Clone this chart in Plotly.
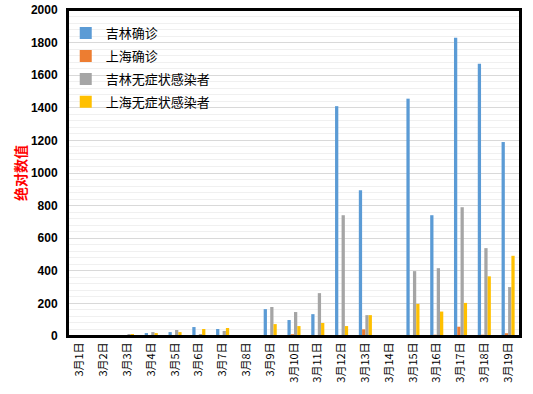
import plotly.graph_objects as go

categories = ["3月1日","3月2日","3月3日","3月4日","3月5日","3月6日","3月7日","3月8日","3月9日","3月10日",
              "3月11日","3月12日","3月13日","3月14日","3月15日","3月16日","3月17日","3月18日","3月19日"]
jilin_confirmed = [5, 0, 4, 18, 24, 55, 43, 0, 165, 98, 134, 1410, 894, 0, 1456, 741, 1830, 1670, 1190]
shanghai_confirmed = [3, 0, 3, 5, 0, 3, 3, 0, 4, 11, 5, 4, 41, 0, 5, 8, 57, 8, 17]
jilin_asym = [4, 0, 12, 24, 37, 12, 31, 0, 178, 147, 263, 741, 128, 0, 398, 416, 790, 539, 300]
shanghai_asym = [4, 0, 12, 18, 24, 43, 49, 0, 73, 61, 80, 61, 128, 0, 197, 150, 203, 366, 492]

series = [
    ("吉林确诊", jilin_confirmed, "#5B9BD5"),
    ("上海确诊", shanghai_confirmed, "#ED7D31"),
    ("吉林无症状感染者", jilin_asym, "#A5A5A5"),
    ("上海无症状感染者", shanghai_asym, "#FFC000"),
]

fig = go.Figure()
for name, vals, color in series:
    fig.add_trace(go.Bar(x=categories, y=vals, name=name, legendgroup=name,
                         marker=dict(color=color, line=dict(width=0))))

font_cjk = "Noto Sans CJK SC, DejaVu Sans, sans-serif"
fig.update_layout(
    width=533, height=394,
    margin=dict(l=68, r=13, t=10, b=58, autoexpand=False),
    paper_bgcolor="white", plot_bgcolor="white",
    barmode="group", bargap=0.45, bargroupgap=0,
    hovermode=False,
    font=dict(family=font_cjk, size=12, color="#000000"),
    showlegend=True,
    legend=dict(x=-0.005, y=0.975, xanchor="left", yanchor="top",
                bgcolor="rgba(0,0,0,0)", font=dict(size=13, family=font_cjk, color="#000000"),
                itemwidth=30, tracegroupgap=3),
    xaxis=dict(type="category", tickangle=-90, showline=True, linecolor="#000000", linewidth=2,
               mirror=True, ticks="", ticklen=0, showgrid=False, showdividers=False,
               automargin=False,
               tickfont=dict(size=11, family=font_cjk, color="#000000")),
    yaxis=dict(range=[0, 2000], dtick=200, showline=True, linecolor="#000000", linewidth=2,
               mirror=True, ticks="", ticklen=0, showgrid=True,
               gridcolor="#D9D9D9", gridwidth=1,
               minor=dict(dtick=40, showgrid=True, gridcolor="#F0F0F0", gridwidth=1, ticks=""),
               zeroline=False, automargin=False, ticklabelstandoff=6,
               tickfont=dict(size=12, family="Liberation Sans, Arial, sans-serif", color="#000000", weight="bold")),
)
fig.add_shape(type="rect", xref="x domain", yref="y domain", x0=0, y0=0, x1=1, y1=1,
              line=dict(color="#000000", width=2), fillcolor="rgba(0,0,0,0)", layer="above")
fig.add_annotation(text="绝对数值", xref="paper", yref="paper", x=-0.106, y=0.50,
                   xanchor="center", yanchor="middle", textangle=-90, showarrow=False,
                   font=dict(size=14, color="#FF0000", family=font_cjk, weight="bold"))

fig.write_html("out.html", config={"displayModeBar": False, "staticPlot": True},
               post_script="document.body.style.margin='0';")
